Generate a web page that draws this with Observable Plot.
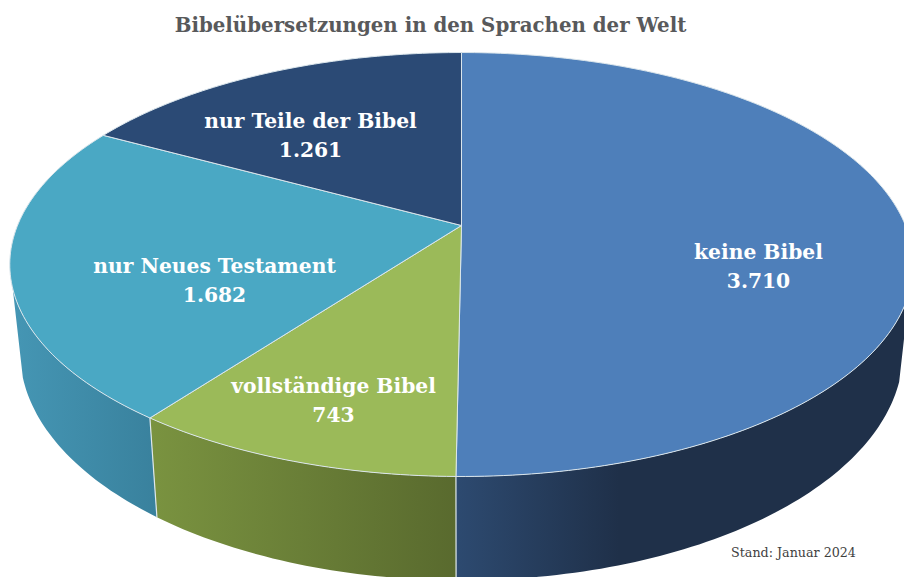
<!DOCTYPE html>
<html lang="de">
<head>
<meta charset="utf-8">
<script src="https://cdn.jsdelivr.net/npm/d3@7"></script>
<script src="https://cdn.jsdelivr.net/npm/@observablehq/plot@0.6"></script>
<style>
html,body{margin:0;padding:0;background:#fff;overflow:hidden}
svg{display:block}
</style>
</head>
<body>
<div id="chart"></div>
<script>
const categories = ["keine Bibel", "vollständige Bibel", "nur Neues Testament", "nur Teile der Bibel"];
const values = [3710, 743, 1682, 1261];
const titleText = "Bibelübersetzungen in den Sprachen der Welt";
const captionText = "Stand: Januar 2024";

const topColors = ["#4e7fba", "#9bba59", "#4aa8c4", "#2b4a75"];
const wallStops = [["#2d4a70", "#1f3049"], ["#7a9340", "#596a2e"], ["#4596b4", "#39819d"], ["#2b4a75", "#2b4a75"]];

const W = 904, H = 577;
// Perspective view of the disc: top face and the lower rim, in the frame's units.
const faceTop = {cx: 461, cy: 225, a: 204.8, b: 444, k: 0.184};
const faceBottom = {cx: 461, cy: 309, a: 221, b: 434, k: 0.184};
const project = (f, deg) => {
  const t = deg * Math.PI / 180, u = Math.sin(t), v = Math.cos(t), d = 1 + f.k * v;
  return {x: f.cx + f.b * u / d, y: f.cy - f.a * v / d};
};
const arc = (f, a0, a1) => {
  const n = Math.max(2, Math.ceil(Math.abs(a1 - a0)));
  return d3.range(n + 1).map(i => project(f, a0 + (a1 - a0) * i / n));
};

const total = d3.sum(values);
const cum = d3.cumsum(values);
const slices = categories.map((name, i) => ({
  name, value: values[i],
  a0: (i ? cum[i - 1] : 0) / total * 360,
  a1: cum[i] / total * 360
}));

// Part of each slice's side wall that faces the viewer
const wallFrom = 108, wallTo = 253;
const wallMarks = slices.flatMap((s, i) => {
  const a0 = Math.max(s.a0, wallFrom), a1 = Math.min(s.a1, wallTo);
  if (a1 <= a0) return [];
  const pts = [...arc(faceTop, a0, a1), ...arc(faceBottom, a1, a0)];
  return [Plot.line(pts, {x: "x", y: "y", fill: `url(#wall${i})`, stroke: "none", clip: true})];
});

// Seams on the wall between slices
const seamMarks = slices.map(s => s.a1).filter(a => a > wallFrom && a < wallTo).map(a =>
  Plot.line([project(faceTop, a), project(faceBottom, a)], {x: "x", y: "y", stroke: "#dfe8ec", strokeWidth: 1.2, clip: true})
);

const apex = {x: faceTop.cx, y: faceTop.cy};
const faceMarks = slices.map((s, i) =>
  Plot.line([apex, ...arc(faceTop, s.a0, s.a1), apex],
    {x: "x", y: "y", fill: topColors[i], stroke: "#dbe6ec", strokeWidth: 1, clip: true})
);

const deFormat = d3.formatLocale({decimal: ",", thousands: ".", grouping: [3], currency: ["", " €"]}).format(",");
const labelPlaces = [{x: 758, y: 264}, {x: 333, y: 398}, {x: 214, y: 278}, {x: 310, y: 133}];
const labels = slices.map((s, i) => ({...labelPlaces[i], text: `${s.name}\n${deFormat(s.value)}`}));

const defs = () => {
  const d = d3.create("svg:defs");
  wallStops.forEach((c, i) => {
    const g = d.append("linearGradient").attr("id", `wall${i}`).attr("x1", 0).attr("x2", 1).attr("y1", 0).attr("y2", 0);
    g.append("stop").attr("offset", "0%").attr("stop-color", c[0]);
    g.append("stop").attr("offset", i === 0 ? "36%" : "100%").attr("stop-color", c[1]);
  });
  return d.node();
};

const plot = Plot.plot({
  width: W, height: H,
  margin: 0,
  x: {domain: [0, W], axis: null},
  y: {domain: [H, 0], axis: null},
  style: {background: "#fff"},
  marks: [
    defs,
    ...wallMarks,
    ...seamMarks,
    ...faceMarks,
    Plot.text(labels, {
      x: "x", y: "y", text: "text", fill: "#fff", fontSize: 20.25, fontWeight: 700,
      fontFamily: "DejaVu Serif", lineHeight: 1.43, textAnchor: "middle"
    }),
    Plot.text([titleText], {
      x: () => 430, y: () => 25, text: d => d, fill: "#58595b", fontSize: 19.8, fontWeight: 700,
      fontFamily: "DejaVu Serif", textAnchor: "middle"
    }),
    Plot.text([captionText], {
      x: () => 793, y: () => 552, text: d => d, fill: "#3f3f3f", fontSize: 12.7,
      fontFamily: "DejaVu Serif", textAnchor: "middle"
    })
  ]
});
document.getElementById("chart").append(plot);
</script>
</body>
</html>
